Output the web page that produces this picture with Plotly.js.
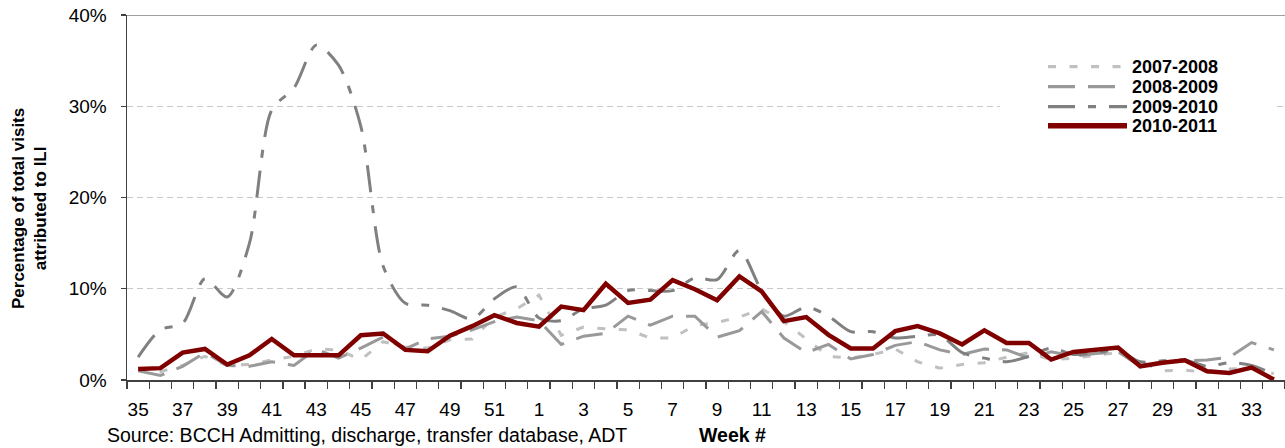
<!DOCTYPE html>
<html>
<head>
<meta charset="utf-8">
<script src="https://cdn.plot.ly/plotly-3.0.1.min.js"></script>
<style>
  html, body { margin: 0; padding: 0; background: #ffffff; }
  #chart { width: 1285px; height: 448px; }
</style>
</head>
<body>
<div id="chart"></div>
<script>
// Week numbers along the x axis (flu season runs week 35 to week 34 of next year)
const weeks = ["35","36","37","38","39","40","41","42","43","44","45","46","47","48","49","50","51","52",
               "1","2","3","4","5","6","7","8","9","10","11","12","13","14","15","16","17","18","19","20",
               "21","22","23","24","25","26","27","28","29","30","31","32","33","34"];

const seasonNames = ["2007-2008", "2008-2009", "2009-2010", "2010-2011"];

// Percentage of total visits attributed to ILI, per week
const s2007_2008 = [1.1, 0.9, 1.6, 2.6, 1.6, 1.7, 2.2, 2.6, 3.4, 3.3, 2.2, 4.2, 3.6, 3.5, 4.4, 4.5, 6.9, 7.8,
                    9.3, 4.9, 5.8, 5.6, 5.5, 4.6, 4.6, 6.0, 6.3, 6.9, 7.8, 6.4, 4.5, 2.6, 2.4, 2.8, 3.4, 2.0,
                    1.3, 1.7, 1.9, 2.5, 3.0, 2.2, 2.4, 2.7, 3.0, 2.0, 1.0, 1.1, 0.8, 1.2, 1.3, 0.7];

const s2008_2009 = [1.0, 0.5, 1.5, 3.0, 1.6, 1.5, 2.0, 1.6, 3.4, 2.4, 3.5, 4.7, 3.4, 4.5, 4.8, 5.5, 6.4, 6.9,
                    6.5, 3.9, 4.8, 5.1, 7.0, 6.0, 7.0, 7.0, 4.7, 5.4, 7.5, 4.6, 3.0, 3.9, 2.3, 2.8, 3.8, 4.2,
                    3.3, 2.8, 3.4, 3.3, 2.4, 3.1, 2.6, 2.9, 3.1, 1.5, 2.0, 2.1, 2.2, 2.5, 4.1, 3.3];

const s2009_2010 = [2.5, 5.5, 6.2, 11.1, 9.1, 15.0, 29.6, 32.0, 36.7, 34.5, 27.8, 12.5, 8.4, 8.2, 7.6, 6.7, 8.9, 10.2,
                    6.8, 6.5, 7.8, 8.2, 9.8, 9.8, 9.8, 11.2, 11.0, 14.2, 9.8, 7.0, 8.0, 7.0, 5.3, 5.3, 4.6, 4.8,
                    4.9, 3.0, 2.4, 2.0, 2.6, 3.5, 2.8, 3.0, 3.2, 2.0, 2.1, 2.2, 1.5, 1.9, 1.6, 0.6];

const s2010_2011 = [1.2, 1.3, 3.0, 3.4, 1.7, 2.7, 4.5, 2.7, 2.7, 2.7, 4.9, 5.1, 3.3, 3.15, 4.85, 5.9, 7.1, 6.25,
                    5.85, 8.05, 7.65, 10.55, 8.45, 8.8, 10.95, 9.95, 8.75, 11.35, 9.7, 6.45, 6.9, 4.95, 3.45, 3.45, 5.35, 5.9,
                    5.1, 3.9, 5.45, 4.06, 4.06, 2.24, 3.07, 3.26, 3.55, 1.5, 1.9, 2.16, 0.95, 0.77, 1.36, 0.05];

const yTicks = [0, 10, 20, 30, 40];

// ---- styling ----
const FONT = "'Liberation Sans', Arial, Helvetica, sans-serif";
const styles = [
  { color: "#c0c0c0", width: 3, dash: "8px,13.5px", shape: "linear" },
  { color: "#999999", width: 3, dash: "27px,13px", shape: "linear" },
  { color: "#808080", width: 3, dash: "27px,13px,8px,13px", shape: "spline" },
  { color: "#800000", width: 4.5, dash: "solid", shape: "linear" }
];
const seriesData = [s2007_2008, s2008_2009, s2009_2010, s2010_2011];

const traces = seriesData.map((ys, k) => ({
  type: "scatter",
  mode: "lines",
  name: seasonNames[k],
  x: weeks,
  y: ys,
  line: { color: styles[k].color, width: styles[k].width, dash: styles[k].dash,
          shape: styles[k].shape, smoothing: styles[k].shape === "spline" ? 0.8 : undefined },
  hoverinfo: "skip",
  showlegend: false
}));

const tickText = weeks.map((w, i) => (i % 2 === 0 ? w : ""));

// plot area geometry helpers (paper coords)
const L = 127, R = 1285, T = 15, B = 380;
const px = (x) => (x - L) / (R - L);
const py = (y) => (B - y) / (B - T);

const shapes = [
  // solid top border at 40%
  { type: "line", xref: "paper", yref: "y", x0: 0, x1: 1, y0: 40, y1: 40,
    line: { color: "#808080", width: 1.5 }, layer: "above" },
  // legend background
  { type: "rect", xref: "paper", yref: "paper", x0: px(1000), x1: px(1273), y0: py(140), y1: py(55),
    fillcolor: "#ffffff", line: { width: 0 }, layer: "above" }
];
const legendRows = [66.7, 86.7, 106.7, 125.7];
const annotations = [];
seasonNames.forEach((name, k) => {
  const lw = k === 3 ? 5.5 : 3.3;
  shapes.push({ type: "line", xref: "paper", yref: "paper",
    x0: px(1048), x1: px(1127), y0: py(legendRows[k]), y1: py(legendRows[k]),
    line: { color: styles[k].color, width: lw, dash: styles[k].dash }, layer: "above" });
  annotations.push({ xref: "paper", yref: "paper", x: px(1130), y: py(legendRows[k]),
    xanchor: "left", yanchor: "middle", showarrow: false,
    text: "<b>" + name + "</b>", font: { family: FONT, size: 18, color: "#000000" } });
});

// y axis title (two lines, rotated)
annotations.push({ xref: "paper", yref: "paper", x: px(29.5), y: py(208.5),
  xanchor: "center", yanchor: "middle", showarrow: false, textangle: -90,
  text: "<b>Percentage of total visits<br>attributed to ILI</b>",
  font: { family: FONT, size: 17, color: "#000000" } });
// source note
annotations.push({ xref: "paper", yref: "paper", x: px(105), y: py(435),
  xanchor: "left", yanchor: "middle", showarrow: false,
  text: "Source: BCCH Admitting, discharge, transfer database, ADT",
  font: { family: FONT, size: 19.5, color: "#000000" } });
// x axis title
annotations.push({ xref: "paper", yref: "paper", x: px(697), y: py(435),
  xanchor: "left", yanchor: "middle", showarrow: false,
  text: "<b>Week #</b>",
  font: { family: FONT, size: 19.5, color: "#000000" } });

const layout = {
  width: 1285, height: 448,
  margin: { l: L, r: 1285 - R, t: T, b: 448 - B, pad: 0 },
  paper_bgcolor: "#ffffff", plot_bgcolor: "#ffffff",
  showlegend: false,
  hovermode: false,
  font: { family: FONT, size: 19, color: "#000000" },
  xaxis: {
    type: "category",
    categoryorder: "array", categoryarray: weeks,
    range: [-0.5, weeks.length - 0.5],
    tickmode: "array", tickvals: weeks, ticktext: tickText,
    tickson: "boundaries",
    tickangle: 0,
    ticks: "outside", ticklen: 7, tickwidth: 1.3, tickcolor: "#404040",
    ticklabelstandoff: 12,
    showline: true, linecolor: "#404040", linewidth: 1.5,
    showgrid: false, zeroline: false,
    tickfont: { family: FONT, size: 19, color: "#000000" },
    fixedrange: true
  },
  yaxis: {
    range: [0, 40],
    tickmode: "array", tickvals: yTicks, ticktext: yTicks.map(v => v + "%"),
    ticks: "outside", ticklen: 5, tickwidth: 1.3, tickcolor: "#404040",
    ticklabelstandoff: 10,
    showline: true, linecolor: "#404040", linewidth: 1.5,
    showgrid: true, gridcolor: "#c8c8c8", gridwidth: 1, griddash: "6px,4px",
    zeroline: false,
    tickfont: { family: FONT, size: 19, color: "#000000" },
    fixedrange: true
  },
  shapes: shapes,
  annotations: annotations
};

Plotly.newPlot("chart", traces, layout, { displayModeBar: false, staticPlot: true });
</script>
</body>
</html>
